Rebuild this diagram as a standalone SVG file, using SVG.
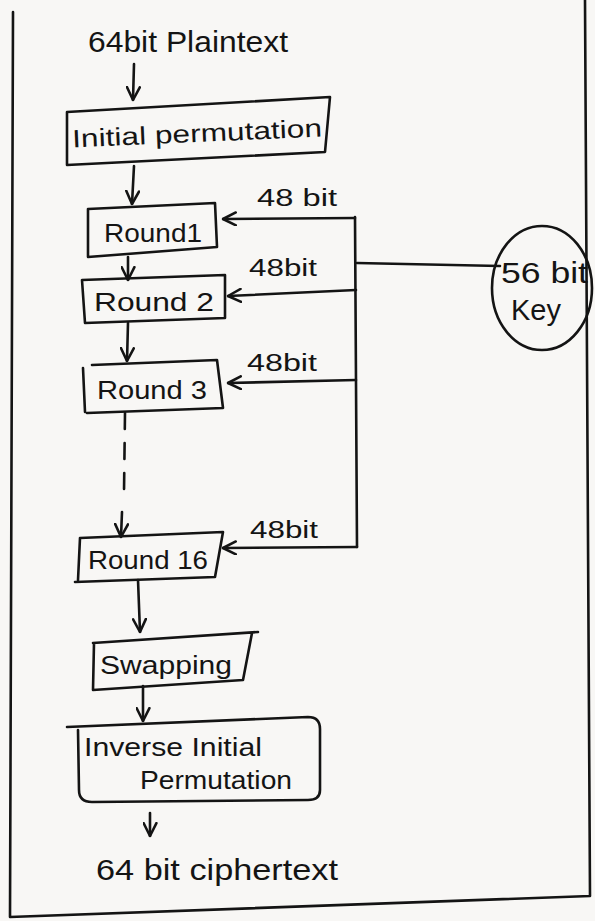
<svg xmlns="http://www.w3.org/2000/svg" width="595" height="921" viewBox="0 0 595 921">
  <style>
    .ink { fill: none; stroke: #141414; stroke-width: 2.6; stroke-linecap: round; stroke-linejoin: round; }
    .lbl { font-family: "Liberation Sans", "DejaVu Sans", sans-serif; fill: #141414; }
    .big { font-size: 29px; }
    .mid { font-size: 25px; }
    .sm { font-size: 23px; }
    .dash { stroke-dasharray: 16 14; }
  </style>
  <defs>
    <marker id="vhead" viewBox="0 0 14 14" refX="13" refY="7" markerWidth="15" markerHeight="15" markerUnits="userSpaceOnUse" orient="auto">
      <path d="M1 1 L13 7 L1 13" fill="none" stroke="#141414" stroke-width="2.4" stroke-linecap="round" stroke-linejoin="round"/>
    </marker>
  </defs>

  <!-- paper -->
  <rect width="595" height="921" fill="#f8f7f5"/>

  <!-- page frame -->
  <g id="frame">
    <path class="ink" d="M13 12 L10 917 L590 896 L585 0"/>
  </g>

  <!-- input / output labels -->
  <g id="plaintext">
    <text class="lbl big" x="88" y="52" textLength="200" lengthAdjust="spacingAndGlyphs">64bit Plaintext</text>
  </g>
  <g id="ciphertext">
    <text class="lbl big" x="96" y="880" textLength="242" lengthAdjust="spacingAndGlyphs">64 bit ciphertext</text>
  </g>

  <!-- process boxes -->
  <g id="initial-permutation">
    <path class="ink" d="M67 112 L330 97 L325 152 L67 165 Z"/>
    <text class="lbl mid" x="72" y="142" textLength="250" lengthAdjust="spacingAndGlyphs" transform="rotate(-2.5 196 132)">Initial permutation</text>
  </g>

  <g id="round1">
    <path class="ink" d="M88 209 L215 203 L217 247 L88 257 Z"/>
    <text class="lbl mid" x="104" y="242" textLength="98" lengthAdjust="spacingAndGlyphs">Round1</text>
  </g>

  <g id="round2">
    <path class="ink" d="M82 280 L225 275 L225 318 L85 323 Z"/>
    <text class="lbl mid" x="94" y="311" textLength="120" lengthAdjust="spacingAndGlyphs">Round 2</text>
  </g>

  <g id="round3">
    <path class="ink" d="M92 365 L217 360 L223 408 L87 413 M83 368 L85 412"/>
    <text class="lbl mid" x="97" y="399" textLength="110" lengthAdjust="spacingAndGlyphs">Round 3</text>
  </g>

  <g id="round16">
    <path class="ink" d="M80 538 L223 532 L215 577 L75 582 M80 538 L78 580"/>
    <text class="lbl mid" x="88" y="569" textLength="120" lengthAdjust="spacingAndGlyphs">Round 16</text>
  </g>

  <g id="swapping">
    <path class="ink" d="M93 643 L258 632 M252 633 L243 680 L93 690 L94 643"/>
    <text class="lbl mid" x="100" y="674" textLength="132" lengthAdjust="spacingAndGlyphs">Swapping</text>
  </g>

  <g id="inverse-permutation">
    <path class="ink" d="M67 727 L308 717 Q320 717 320 729 L320 790 Q320 800 308 800 L92 802 Q79 802 79 790 L78 730"/>
    <text class="lbl mid" x="84" y="756" textLength="178" lengthAdjust="spacingAndGlyphs">Inverse Initial</text>
    <text class="lbl mid" x="140" y="789" textLength="152" lengthAdjust="spacingAndGlyphs">Permutation</text>
  </g>

  <g id="key">
    <ellipse class="ink" cx="542" cy="288" rx="50" ry="62"/>
    <text class="lbl big" x="501" y="283" textLength="87" lengthAdjust="spacingAndGlyphs">56 bit</text>
    <text class="lbl big" x="511" y="320" textLength="50" lengthAdjust="spacingAndGlyphs">Key</text>
  </g>

  <!-- subkey labels -->
  <g id="subkey-labels">
    <text class="lbl sm" x="257" y="206" textLength="80" lengthAdjust="spacingAndGlyphs">48 bit</text>
    <text class="lbl sm" x="249" y="276" textLength="68" lengthAdjust="spacingAndGlyphs">48bit</text>
    <text class="lbl sm" x="247" y="371" textLength="70" lengthAdjust="spacingAndGlyphs">48bit</text>
    <text class="lbl sm" x="250" y="538" textLength="68" lengthAdjust="spacingAndGlyphs">48bit</text>
  </g>

  <!-- connectors -->
  <g id="connectors">
    <!-- main data path -->
    <path class="ink" d="M134 64 L133 100" marker-end="url(#vhead)"/>
    <path class="ink" d="M134 166 L132 204" marker-end="url(#vhead)"/>
    <path class="ink" d="M128 257 L128 280" marker-end="url(#vhead)"/>
    <path class="ink" d="M128 323 L127 361" marker-end="url(#vhead)"/>
    <path class="ink dash" d="M125 413 L124 492"/>
    <path class="ink" d="M122 512 L121 537" marker-end="url(#vhead)"/>
    <path class="ink" d="M138 580 L140 632" marker-end="url(#vhead)"/>
    <path class="ink" d="M143 686 L143 721" marker-end="url(#vhead)"/>
    <path class="ink" d="M150 813 L150 836" marker-end="url(#vhead)"/>

    <!-- key schedule feed -->
    <path class="ink" d="M500 266 L357 263"/>
    <path class="ink" d="M355 217 L357 547"/>
    <path class="ink" d="M355 218 L223 219" marker-end="url(#vhead)"/>
    <path class="ink" d="M356 290 L228 296" marker-end="url(#vhead)"/>
    <path class="ink" d="M356 380 L228 383" marker-end="url(#vhead)"/>
    <path class="ink" d="M357 547 L223 548" marker-end="url(#vhead)"/>
  </g>
</svg>
